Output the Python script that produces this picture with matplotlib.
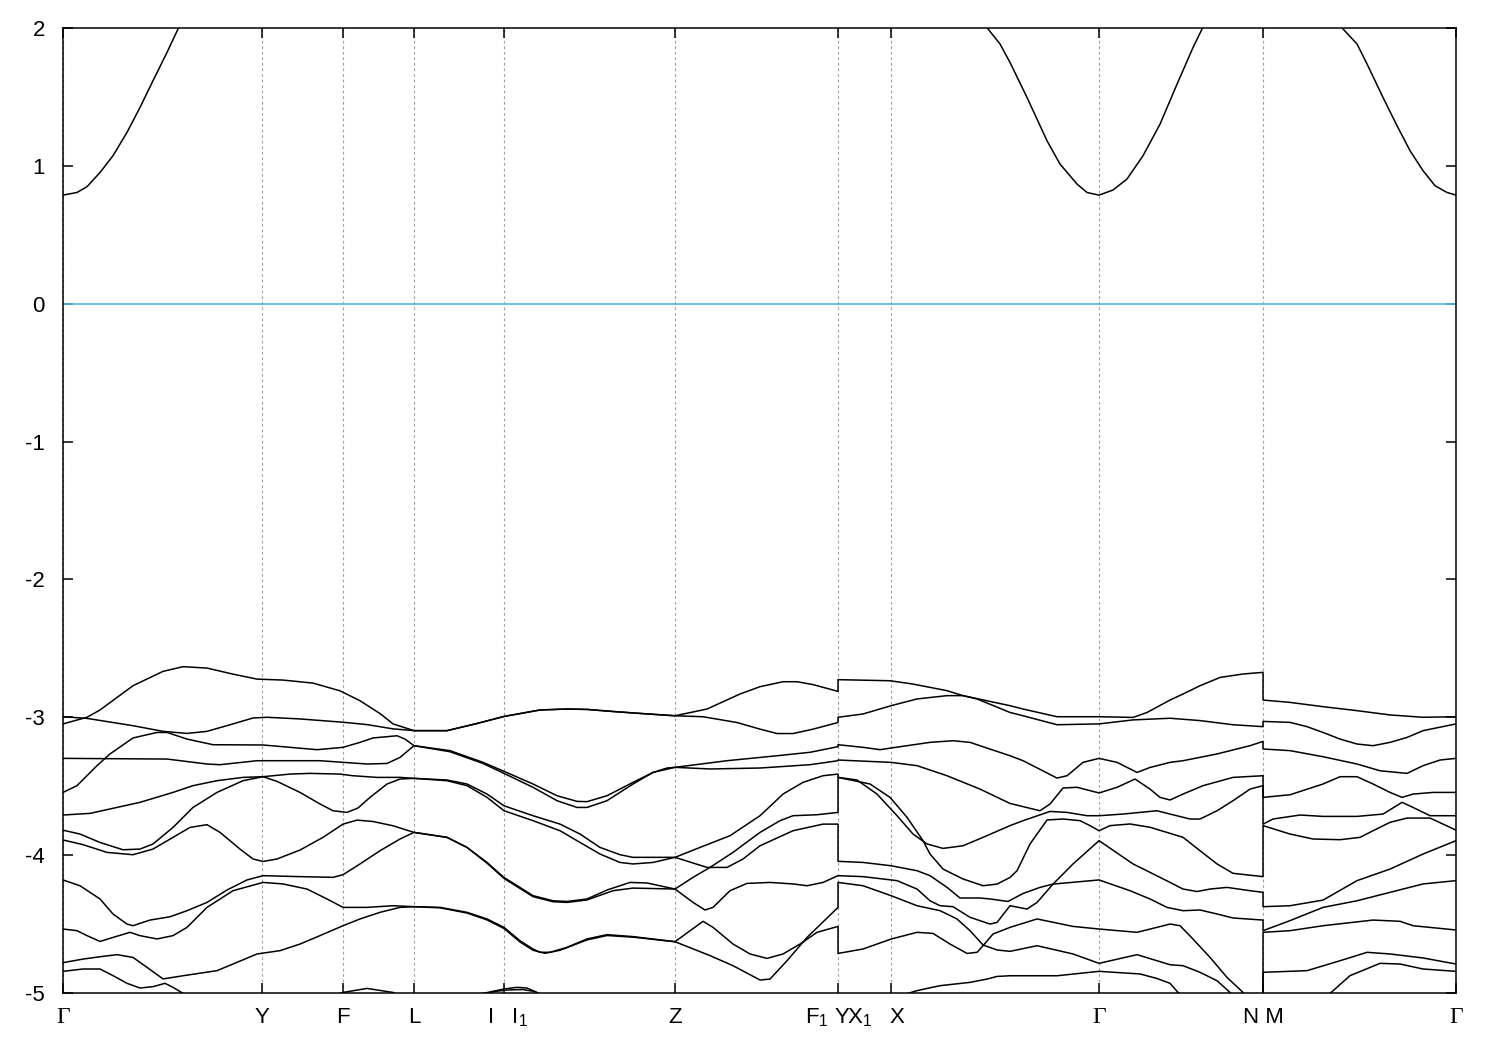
import numpy as np
import matplotlib
matplotlib.use("Agg")
import matplotlib.pyplot as plt
from matplotlib.transforms import ScaledTranslation

plt.rcParams['font.family'] = ['Liberation Sans', 'DejaVu Sans']
plt.rcParams['mathtext.fontset'] = 'custom'
plt.rcParams['mathtext.rm'] = 'Liberation Sans'
plt.rcParams['mathtext.it'] = 'Liberation Sans'
plt.rcParams['axes.unicode_minus'] = False

# high symmetry points (path distance, arbitrary units)
sym_k = [0, 199, 280, 351, 441, 612, 775, 828, 1036, 1200, 1393]
sym_labels = ['Γ', 'Y', 'F', 'L', 'I   I$_1$', 'Z', 'F$_1$ Y', 'X$_1$   X', 'Γ', 'N M', 'Γ']
e_ticks = [-5, -4, -3, -2, -1, 0, 1, 2]

# conduction band
k0 = [0, 14, 24, 37, 50, 64, 77, 90, 104, 115, 140, 400, 775,
      775, 900, 925, 937, 947, 964, 984, 997, 1014, 1024, 1036, 1050, 1064, 1080, 1097, 1114, 1130, 1139, 1165, 1200,
      1200, 1260, 1280, 1294, 1304, 1320, 1334, 1347, 1360, 1372, 1384, 1393]
e0 = [0.788, 0.807, 0.849, 0.952, 1.074, 1.243, 1.424, 1.618, 1.823, 1.993, 2.3, 3.0, 3.0,
      3.0, 2.3, 1.993, 1.884, 1.750, 1.496, 1.182, 1.013, 0.868, 0.807, 0.788, 0.825, 0.905, 1.074, 1.303, 1.593, 1.859, 1.993, 2.4, 3.0,
      3.0, 2.3, 1.993, 1.884, 1.739, 1.496, 1.291, 1.110, 0.965, 0.856, 0.807, 0.788]

# valence bands
k1 = [0, 24, 37, 70, 100, 120, 144, 170, 194, 220, 250, 277, 297, 317, 330, 351,
      384, 414, 441, 477, 504, 524, 550, 577, 612,
      644, 677, 697, 720, 734, 750, 775,
      775, 827, 850, 884, 900, 947, 960, 994, 1036, 1070, 1084, 1107, 1120, 1137, 1157, 1180, 1200,
      1200, 1227, 1260, 1294, 1327, 1360, 1393]
e1 = [-3.048, -3.0, -2.947, -2.771, -2.667, -2.633, -2.643, -2.687, -2.723, -2.730, -2.752, -2.808, -2.880, -2.973, -3.048, -3.097,
      -3.097, -3.045, -2.994, -2.947, -2.940, -2.943, -2.958, -2.972, -2.989,
      -2.940, -2.831, -2.778, -2.742, -2.742, -2.763, -2.812,
      -2.727, -2.735, -2.759, -2.807, -2.843, -2.916, -2.940, -2.996, -2.996, -3.001, -2.965, -2.875, -2.831, -2.771, -2.711, -2.686, -2.674,
      -2.875, -2.892, -2.923, -2.952, -2.983, -3.0, -2.996]

k2 = [0, 24, 70, 100, 124, 144, 170, 190, 204, 237, 280, 304, 330, 351,
      384, 414, 441, 477, 504, 524, 550, 577, 612,
      640, 674, 697, 714, 730, 750, 775,
      775, 800, 828, 854, 884, 900, 914, 947, 960, 994, 1036, 1070, 1107, 1137, 1170, 1200,
      1200, 1227, 1244, 1260, 1277, 1294, 1310, 1327, 1344, 1360, 1393]
e2 = [-2.996, -3.008, -3.061, -3.102, -3.117, -3.102, -3.048, -3.005, -3.0, -3.012, -3.036, -3.053, -3.084, -3.097,
      -3.097, -3.045, -2.994, -2.947, -2.940, -2.943, -2.958, -2.972, -2.989,
      -2.996, -3.038, -3.086, -3.118, -3.118, -3.086, -3.038,
      -3.0, -2.976, -2.916, -2.867, -2.843, -2.843, -2.867, -2.965, -2.989, -3.054, -3.048, -3.019, -3.007, -3.024, -3.054, -3.068,
      -3.030, -3.037, -3.068, -3.110, -3.158, -3.194, -3.206, -3.182, -3.146, -3.097, -3.048]

k3 = [0, 14, 34, 47, 70, 94, 104, 124, 150, 200, 227, 254, 280, 297, 310, 334, 342, 351,
      387, 420, 441, 470, 494, 514, 524, 544, 570, 590, 604, 612,
      664, 714, 747, 775,
      775, 800, 817, 828, 867, 890, 907, 947, 960, 994, 1004, 1020, 1036, 1054, 1074, 1087, 1107, 1120, 1154, 1187, 1200,
      1200, 1227, 1260, 1294, 1317, 1344, 1360, 1377, 1393]
e3 = [-3.545, -3.496, -3.351, -3.266, -3.150, -3.110, -3.110, -3.158, -3.199, -3.201, -3.218, -3.235, -3.218, -3.182, -3.150, -3.134, -3.158, -3.206,
      -3.242, -3.327, -3.392, -3.484, -3.569, -3.610, -3.612, -3.569, -3.472, -3.400, -3.368, -3.363,
      -3.315, -3.279, -3.254, -3.213,
      -3.199, -3.218, -3.235, -3.223, -3.182, -3.170, -3.182, -3.279, -3.315, -3.441, -3.424, -3.327, -3.298, -3.327, -3.400, -3.364, -3.327, -3.315, -3.266, -3.206, -3.175,
      -3.230, -3.242, -3.286, -3.339, -3.388, -3.407, -3.351, -3.310, -3.298]

k4 = [0, 104, 144, 157, 194, 257, 304, 324, 337, 351,
      387, 420, 441, 470, 494, 514, 524, 544, 570, 590, 612,
      647, 697, 747, 775,
      775, 828, 854, 884, 917, 947, 977, 987, 1000, 1014, 1036, 1054, 1072, 1087, 1097, 1107, 1120, 1140, 1170, 1200,
      1200, 1227, 1260, 1277, 1294, 1310, 1327, 1339, 1350, 1370, 1393]
e4 = [-3.298, -3.303, -3.339, -3.344, -3.315, -3.315, -3.339, -3.335, -3.291, -3.206,
      -3.250, -3.335, -3.407, -3.508, -3.605, -3.654, -3.654, -3.605, -3.484, -3.400, -3.363,
      -3.375, -3.368, -3.344, -3.315,
      -3.310, -3.327, -3.351, -3.424, -3.521, -3.625, -3.678, -3.629, -3.513, -3.508, -3.549, -3.508, -3.448, -3.521, -3.581, -3.600, -3.557, -3.496, -3.436, -3.424,
      -3.581, -3.562, -3.484, -3.431, -3.431, -3.484, -3.545, -3.581, -3.557, -3.545, -3.545]

k5 = [0, 27, 54, 77, 110, 130, 154, 180, 200, 227, 247, 277, 290, 314, 337, 351,
      384, 404, 424, 441, 470, 497, 517, 537, 557, 570, 612,
      637, 667, 697, 720, 740, 760, 775,
      775, 794, 814, 834, 850, 864, 880, 900, 920, 947, 960, 987, 1004, 1024, 1036, 1060, 1094, 1107, 1127, 1137, 1154, 1170, 1187, 1200,
      1200, 1210, 1237, 1260, 1294, 1320, 1339, 1350, 1367, 1393]
e5 = [-3.709, -3.697, -3.654, -3.617, -3.545, -3.496, -3.460, -3.436, -3.431, -3.412, -3.407, -3.412, -3.424, -3.436, -3.436, -3.443,
      -3.455, -3.484, -3.557, -3.642, -3.714, -3.775, -3.847, -3.944, -3.997, -4.016, -4.016,
      -3.944, -3.859, -3.714, -3.557, -3.472, -3.424, -3.412,
      -3.436, -3.455, -3.557, -3.714, -3.847, -3.919, -3.951, -3.932, -3.871, -3.786, -3.750, -3.683, -3.690, -3.714, -3.714, -3.702, -3.678, -3.702, -3.738, -3.738, -3.678, -3.605, -3.521, -3.496,
      -3.775, -3.738, -3.709, -3.719, -3.719, -3.702, -3.617, -3.654, -3.714, -3.714]

k6 = [0, 20, 44, 70, 90, 110, 127, 144, 157, 177, 190, 200, 214, 237, 260, 280, 294, 310, 330, 351,
      384, 404, 424, 441, 470, 490, 504, 524, 544, 567, 584, 612,
      630, 647, 670, 697, 717, 730, 754, 775,
      775, 807, 827, 844, 860, 867, 880, 900, 920, 934, 947, 954, 967, 984, 1000, 1017, 1027, 1036, 1047, 1067, 1087, 1107, 1120, 1137, 1154, 1170, 1200,
      1200, 1227, 1250, 1277, 1297, 1310, 1327, 1344, 1367, 1380, 1393]
e6 = [-3.890, -3.924, -3.980, -3.997, -3.956, -3.871, -3.799, -3.779, -3.835, -3.956, -4.028, -4.046, -4.028, -3.963, -3.871, -3.775, -3.746, -3.756, -3.787, -3.835,
      -3.871, -3.944, -4.053, -4.162, -4.294, -4.331, -4.336, -4.318, -4.253, -4.198, -4.202, -4.246,
      -4.161, -4.089, -3.980, -3.835, -3.750, -3.714, -3.707, -3.690,
      -3.436, -3.484, -3.581, -3.726, -3.895, -3.992, -4.101, -4.173, -4.222, -4.210, -4.162, -4.113, -3.919, -3.745, -3.738, -3.750, -3.786, -3.823, -3.786, -3.774, -3.798, -3.842, -3.871, -3.968, -4.064, -4.132, -4.156,
      -3.786, -3.847, -3.883, -3.888, -3.871, -3.823, -3.762, -3.731, -3.731, -3.775, -3.819]

k7 = [0, 17, 37, 60, 77, 90, 110, 130, 154, 180, 200, 214, 237, 257, 270, 284, 295, 307, 324, 337, 351,
      384, 404, 424, 441, 470, 497, 517, 537, 557, 570, 590, 612,
      644, 664, 680, 697, 730, 760, 775,
      775, 800, 828, 854, 867, 884, 897, 917, 927, 945, 960, 977, 990, 1036, 1067, 1087, 1104, 1120, 1137, 1154, 1170, 1200,
      1200, 1227, 1260, 1294, 1327, 1360, 1393]
e7 = [-3.819, -3.847, -3.908, -3.961, -3.956, -3.919, -3.799, -3.654, -3.545, -3.460, -3.431, -3.465, -3.545, -3.629, -3.678, -3.690, -3.658, -3.581, -3.484, -3.448, -3.443,
      -3.460, -3.496, -3.581, -3.678, -3.750, -3.823, -3.908, -3.992, -4.053, -4.064, -4.053, -4.016,
      -4.089, -4.089, -4.028, -3.932, -3.823, -3.775, -3.775,
      -4.045, -4.053, -4.077, -4.113, -4.149, -4.234, -4.311, -4.311, -4.318, -4.336, -4.278, -4.234, -4.210, -4.180, -4.258, -4.318, -4.379, -4.403, -4.398, -4.427, -4.456, -4.471,
      -4.548, -4.475, -4.379, -4.331, -4.270, -4.209, -4.185]

k8 = [0, 17, 37, 50, 64, 70, 87, 107, 124, 144, 164, 184, 200, 237, 270, 280, 297, 317, 337, 351,
      384, 404, 424, 441, 470, 490, 504, 524, 550, 570, 612,
      630, 642, 650, 667, 684, 707, 730, 744, 760, 775,
      775, 800, 834, 854, 867, 877, 890, 907, 927, 934, 947, 964, 974, 990, 1010, 1036, 1070, 1087, 1107, 1120, 1134, 1147, 1164, 1187, 1200,
      1200, 1227, 1260, 1294, 1327, 1360, 1393]
e8 = [-4.180, -4.222, -4.318, -4.427, -4.500, -4.512, -4.471, -4.447, -4.403, -4.343, -4.253, -4.180, -4.149, -4.156, -4.161, -4.142, -4.064, -3.968, -3.883, -3.835,
      -3.871, -3.944, -4.058, -4.169, -4.301, -4.338, -4.343, -4.325, -4.258, -4.239, -4.246,
      -4.343, -4.398, -4.379, -4.258, -4.205, -4.198, -4.209, -4.222, -4.198, -4.149,
      -4.149, -4.156, -4.185, -4.246, -4.331, -4.367, -4.374, -4.451, -4.500, -4.488, -4.367, -4.391, -4.343, -4.210, -4.064, -3.895, -4.064, -4.125, -4.198, -4.246, -4.264, -4.246, -4.234, -4.258, -4.270,
      -4.374, -4.367, -4.326, -4.185, -4.101, -3.992, -3.895]

k9 = [0, 20, 37, 54, 70, 84, 100, 120, 154, 170, 194, 217, 237, 257, 280, 297, 317, 337, 351,
      377, 404, 424, 441, 457, 470, 482, 497, 524, 544, 570, 612,
      647, 670, 697, 707, 724, 744, 775,
      775, 800, 828, 854, 877, 894, 907, 920, 934, 947, 974, 1010, 1036, 1074, 1107, 1120, 1137, 1154, 1167, 1200,
      1200, 1227, 1260, 1310, 1337, 1350, 1393]
e9 = [-4.780, -4.754, -4.737, -4.722, -4.742, -4.814, -4.898, -4.875, -4.838, -4.790, -4.717, -4.693, -4.645, -4.584, -4.512, -4.463, -4.415, -4.379, -4.374,
      -4.382, -4.420, -4.470, -4.532, -4.630, -4.690, -4.712, -4.690, -4.615, -4.583, -4.595, -4.628,
      -4.729, -4.802, -4.906, -4.899, -4.766, -4.597, -4.379,
      -4.198, -4.222, -4.294, -4.367, -4.403, -4.463, -4.548, -4.652, -4.688, -4.698, -4.657, -4.717, -4.785, -4.722, -4.795, -4.802, -4.850, -4.911, -4.996, -5.3,
      -4.560, -4.548, -4.512, -4.471, -4.480, -4.512, -4.543]

k10 = [0, 14, 24, 37, 50, 67, 77, 94, 110, 124, 144, 170, 200, 220, 244, 264, 280, 304, 330, 351,
       377, 404, 424, 441, 457, 470, 477, 487, 504, 524, 544, 570, 612,
       640, 650, 670, 687, 704, 720, 737, 754, 775,
       775, 800, 828, 854, 870, 887, 904, 914, 920, 930, 947, 974, 1010, 1036, 1074, 1107, 1117, 1130, 1147, 1164, 1180, 1200,
       1200, 1244, 1277, 1304, 1327, 1360, 1393]
e10 = [-4.536, -4.548, -4.584, -4.626, -4.597, -4.560, -4.584, -4.608, -4.584, -4.524, -4.379, -4.258, -4.198, -4.209, -4.246, -4.318, -4.379, -4.379, -4.367, -4.374,
       -4.379, -4.415, -4.463, -4.524, -4.621, -4.681, -4.705, -4.705, -4.669, -4.608, -4.577, -4.591, -4.628,
       -4.480, -4.524, -4.645, -4.717, -4.749, -4.717, -4.645, -4.560, -4.517,
       -4.713, -4.681, -4.609, -4.560, -4.568, -4.645, -4.713, -4.705, -4.657, -4.572, -4.524, -4.463, -4.517, -4.536, -4.560, -4.500, -4.512, -4.609, -4.742, -4.887, -4.996, -5.25,
       -4.850, -4.838, -4.766, -4.705, -4.717, -4.746, -4.790]

k11 = [0, 20, 37, 50, 64, 77, 90, 102, 110, 120, 150, 230, 267, 280, 304, 330, 345, 380, 415, 420, 441, 454, 464, 474, 495, 612, 775,
       775, 844, 854, 877, 907, 924, 934, 947, 994, 1036, 1077, 1094, 1107, 1115, 1200,
       1200, 1267, 1287, 1317, 1337, 1360, 1393]
e11 = [-4.843, -4.826, -4.826, -4.874, -4.930, -4.964, -4.954, -4.930, -4.959, -5.003, -5.12, -5.12, -5.03, -4.996, -4.967, -4.996, -5.05, -5.1, -5.05, -5.003, -4.971, -4.959, -4.964, -4.996, -5.1, -5.3, -5.3,
       -5.25, -5.005, -4.983, -4.947, -4.923, -4.899, -4.880, -4.875, -4.875, -4.843, -4.862, -4.895, -4.930, -4.996, -5.4,
       -5.3, -5.003, -4.874, -4.785, -4.790, -4.826, -4.843]

k12 = [415, 430, 445, 460, 472, 485]
e12 = [-5.06, -4.99, -4.978, -4.975, -4.99, -5.06]

bands = [(k0, e0), (k1, e1), (k2, e2), (k3, e3), (k4, e4), (k5, e5), (k6, e6),
         (k7, e7), (k8, e8), (k9, e9), (k10, e10), (k11, e11), (k12, e12)]

fig = plt.figure(figsize=(15, 10.5), dpi=100)
ax = fig.add_axes([0.042, 0.0543, 0.9287, 0.919])

# fermi level
ax.axhline(0, color='#56b4e9', lw=1.2, zorder=2)

for k, e in bands:
    ax.plot(k, e, color='black', lw=1.1, zorder=3)

ax.set_xlim(sym_k[0], sym_k[-1])
ax.set_ylim(-5, 2)
ax.set_xticks(sym_k)
ax.set_xticklabels(sym_labels)
ax.set_yticks(e_ticks)
ax.set_yticklabels([str(v) for v in e_ticks])

ax.grid(True, axis='x', color='#a0a0a0', linestyle=(0, (2.5, 2.5)), linewidth=0.8)
ax.grid(False, axis='y')
ax.tick_params(direction='in', length=7, width=1.1, top=True, right=True,
               labelsize=16, colors='black')
ax.tick_params(axis='x', pad=10)
ax.tick_params(axis='y', pad=13)
for sp in ax.spines.values():
    sp.set_linewidth(1.1)

# gamma in a serif face, and nudge the double labels like the original
shifts = {'F$_1$ Y': -10, 'X$_1$   X': -14, 'I   I$_1$': 3}
for lbl in ax.get_xticklabels():
    txt = lbl.get_text()
    if txt == 'Γ':
        lbl.set_fontfamily(['Liberation Serif', 'DejaVu Serif'])
        lbl.set_fontsize(17)
    if txt in shifts:
        lbl.set_transform(lbl.get_transform() + ScaledTranslation(shifts[txt] / 100, 0, fig.dpi_scale_trans))

fig.savefig('out.png', dpi=100)
